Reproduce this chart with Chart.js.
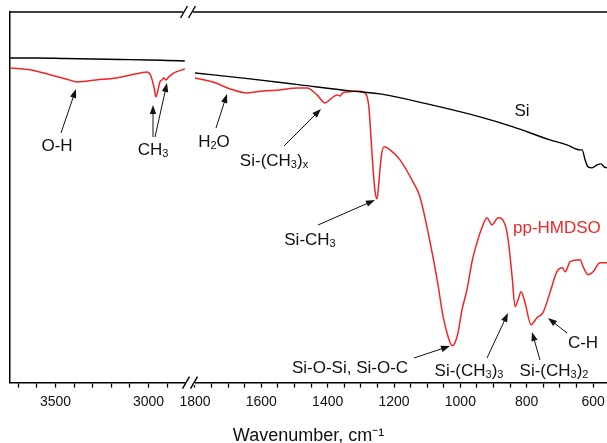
<!DOCTYPE html>
<html><head><meta charset="utf-8">
<script src="https://cdn.jsdelivr.net/npm/chart.js@4/dist/chart.umd.min.js"></script>
<style>html,body{margin:0;padding:0;background:#fff;overflow:hidden}</style>
</head><body>
<canvas id="c" width="607" height="443"></canvas>
<script>
// ---- data (wavenumber, cm-1 ; transmittance, arbitrary units) ----
const siHighWn = [3745, 3600, 3450, 3300, 3150, 3000, 2900, 2805];
const siHighT  = [325, 325, 324.5, 324, 323.5, 323, 322.5, 322];
const ppHighWn = [3745,3632,3525,3444,3380,3283,3175,3095,3041,3009,2987,2970,2960,2950,2939,2928,2918,2907,2891,2864,2805];
const ppHighT  = [315,313,308,304,301,303,305,308,310,311,307,295,286,292,301,303,305,303,306,310,314];
const siLowWn = [1800,1634,1483,1333,1242,1100,941,841,730,679,639,633,624,615,603,588,576,567,558];
const siLowT  = [310,304,298,292,289,279,266,256,243,238,233,233,223,216,215,218,219,216,215];
const ppLowWn = [1800,1746,1694,1643,1595,1544,1492,1462,1432,1408,1387,1372,1363,1354,1339,1312,1293,1281,1275,1269,1263,1257,1251,1245,1239,1230,1212,1182,1143,1122,1091,1070,1052,1037,1025,1016,1007,995,980,965,950,935,920,905,886,865,856,844,835,826,817,805,787,769,751,730,709,693,684,669,639,630,615,600,579,558];
const ppLowT  = [305,301,294,290,292,293,295,295,288,280,285,288,287,290,291,292,291,286,273,243,213,191,184,203,225,236,233,223,201,186,140,103,66,46,37,40,50,73,93,121,140,155,165,158,165,158,143,106,76,83,91,80,58,65,70,90,111,115,111,121,123,116,108,111,120,120];
const highTickLabels = [3500, 3000];
const lowTickLabels = [1800, 1600, 1400, 1200, 1000, 800, 600];

const FONT = '"Liberation Sans", Arial, Helvetica, sans-serif';
const RED = '#f42424';
const mk = (xs, ys) => xs.map((x, i) => ({x: x, y: ys[i]}));

function buildTicks(from, to, step) {
  const t = [];
  for (let v = from; v <= to; v += step) t.push({value: v});
  return t;
}

const notes = [
  {parts: [['O-H', 0]], x: 57, y: 145, arrows: [[61, 133, 76, 89]]},
  {parts: [['CH', 0], ['3', 1]], x: 153, y: 149, arrows: [[153, 137, 153, 105], [155, 137, 167, 83]]},
  {parts: [['H', 0], ['2', 1], ['O', 0]], x: 214, y: 141, arrows: [[216, 128, 227, 94]]},
  {parts: [['Si-(CH', 0], ['3', 1], [')', 0], ['x', 1]], x: 274, y: 160, arrows: [[284, 146, 321, 109]]},
  {parts: [['Si-CH', 0], ['3', 1]], x: 310, y: 239, arrows: [[318, 225, 375, 200]]},
  {parts: [['Si', 0]], x: 522, y: 110, arrows: []},
  {parts: [['Si-O-Si, Si-O-C', 0]], x: 350, y: 367, arrows: [[414, 358, 450, 346]]},
  {parts: [['Si-(CH', 0], ['3', 1], [')', 0], ['3', 1]], x: 469, y: 370, arrows: [[487, 358, 508, 313]]},
  {parts: [['Si-(CH', 0], ['3', 1], [')', 0], ['2', 1]], x: 554, y: 370, arrows: [[540, 360, 532, 332]]},
  {parts: [['C-H', 0]], x: 583, y: 342, arrows: [[567, 333, 548, 318]]}
];

function drawRich(ctx, parts, x, y, align, color) {
  const big = '17px ' + FONT, small = '11px ' + FONT;
  let w = 0;
  parts.forEach(p => { ctx.font = p[1] ? small : big; w += ctx.measureText(p[0]).width; });
  let cx = align === 'left' ? x : x - w / 2;
  ctx.textAlign = 'left';
  ctx.textBaseline = 'alphabetic';
  ctx.fillStyle = color;
  const base = y + 6;
  parts.forEach(p => {
    ctx.font = p[1] ? small : big;
    ctx.fillText(p[0], cx, base + (p[1] ? 1.5 : 0));
    cx += ctx.measureText(p[0]).width;
  });
}

function arrow(ctx, x1, y1, x2, y2) {
  const ang = Math.atan2(y2 - y1, x2 - x1);
  const L = 9, H = 3.2;
  ctx.beginPath();
  ctx.moveTo(x1, y1);
  ctx.lineTo(x2 - Math.cos(ang) * L * 0.8, y2 - Math.sin(ang) * L * 0.8);
  ctx.stroke();
  ctx.beginPath();
  ctx.moveTo(x2, y2);
  ctx.lineTo(x2 - Math.cos(ang) * L - Math.sin(ang) * H, y2 - Math.sin(ang) * L + Math.cos(ang) * H);
  ctx.lineTo(x2 - Math.cos(ang) * L + Math.sin(ang) * H, y2 - Math.sin(ang) * L - Math.cos(ang) * H);
  ctx.closePath();
  ctx.fill();
}

function drawBreak(ctx, cx, y) {
  ctx.fillStyle = '#fff';
  ctx.fillRect(cx - 5, y - 2.5, 10, 5);
  ctx.strokeStyle = '#000';
  ctx.lineWidth = 1.4;
  [-4, 4].forEach(dx => {
    ctx.beginPath();
    ctx.moveTo(cx + dx - 3.5, y + 6);
    ctx.lineTo(cx + dx + 3.5, y - 6);
    ctx.stroke();
  });
}

const decor = {
  id: 'decor',
  afterDraw(chart) {
    const ctx = chart.ctx, a = chart.chartArea;
    const bx = chart.scales.xL.right;
    ctx.save();
    ctx.strokeStyle = '#000';
    ctx.lineWidth = 1.5;
    ctx.beginPath();
    ctx.moveTo(a.left, a.top);
    ctx.lineTo(a.right, a.top);
    ctx.stroke();
    drawBreak(ctx, bx - 2, a.top);
    drawBreak(ctx, bx, a.bottom);
    ctx.lineWidth = 1;
    notes.forEach(n => {
      n.arrows.forEach(ar => { ctx.strokeStyle = '#111'; ctx.fillStyle = '#111'; arrow(ctx, ar[0], ar[1], ar[2], ar[3]); });
      drawRich(ctx, n.parts, n.x, n.y, 'center', '#111');
    });
    drawRich(ctx, [['pp-HMDSO', 0]], 513, 227, 'left', RED);
    ctx.restore();
  }
};

const xCommon = {
  type: 'linear', axis: 'x', position: 'bottom', stack: 'wn', reverse: true,
  grid: {display: true, drawOnChartArea: false, drawTicks: true, tickLength: 5, color: '#000', tickWidth: 1.3},
  border: {display: true, color: '#000', width: 1.5},
  afterFit(s) { s.paddingLeft = 0; s.paddingRight = 0; }
};

new Chart(document.getElementById('c'), {
  type: 'line',
  data: {
    datasets: [
      {label: 'Si', xAxisID: 'xL', yAxisID: 'y', data: mk(siHighWn, siHighT), borderColor: '#000', borderWidth: 1.4},
      {label: 'pp-HMDSO', xAxisID: 'xL', yAxisID: 'y', data: mk(ppHighWn, ppHighT), borderColor: RED, borderWidth: 1.5},
      {label: 'Si', xAxisID: 'xR', yAxisID: 'y', data: mk(siLowWn, siLowT), borderColor: '#000', borderWidth: 1.4},
      {label: 'pp-HMDSO', xAxisID: 'xR', yAxisID: 'y', data: mk(ppLowWn, ppLowT), borderColor: RED, borderWidth: 1.5}
    ]
  },
  options: {
    responsive: false,
    animation: false,
    layout: {padding: {left: 10, top: 12, right: 0, bottom: 0}},
    elements: {point: {radius: 0}, line: {cubicInterpolationMode: 'monotone', fill: false}},
    plugins: {
      legend: {display: false},
      tooltip: {enabled: false},
      title: {
        display: true, position: 'bottom', text: 'Wavenumber, cm\u207B\u00B9', color: '#111',
        font: {family: FONT, size: 18, weight: 'normal', lineHeight: 1},
        padding: {top: 10.6, bottom: -2}
      }
    },
    scales: {
      xL: Object.assign({}, xCommon, {
        min: 2777, max: 3745, stackWeight: 180,
        afterBuildTicks(s) { s.ticks = buildTicks(2900, 3700, 100); },
        ticks: {autoSkip: false, maxRotation: 0, minRotation: 0, padding: 6, color: '#111',
          font: {family: FONT, size: 14},
          callback: v => highTickLabels.includes(v) ? String(v) : ''}
      }),
      xR: Object.assign({}, xCommon, {
        min: 558, max: 1815, stackWeight: 417,
        afterBuildTicks(s) { s.ticks = buildTicks(600, 1800, 50); },
        ticks: {autoSkip: false, maxRotation: 0, minRotation: 0, padding: 6, color: '#111',
          font: {family: FONT, size: 14},
          callback: v => lowTickLabels.includes(v) ? String(v) : ''}
      }),
      y: {
        type: 'linear', position: 'left', min: 0, max: 371,
        ticks: {display: false},
        grid: {display: false, drawTicks: false},
        border: {display: true, color: '#000', width: 1.5}
      }
    }
  },
  plugins: [decor]
});
</script>
</body></html>
